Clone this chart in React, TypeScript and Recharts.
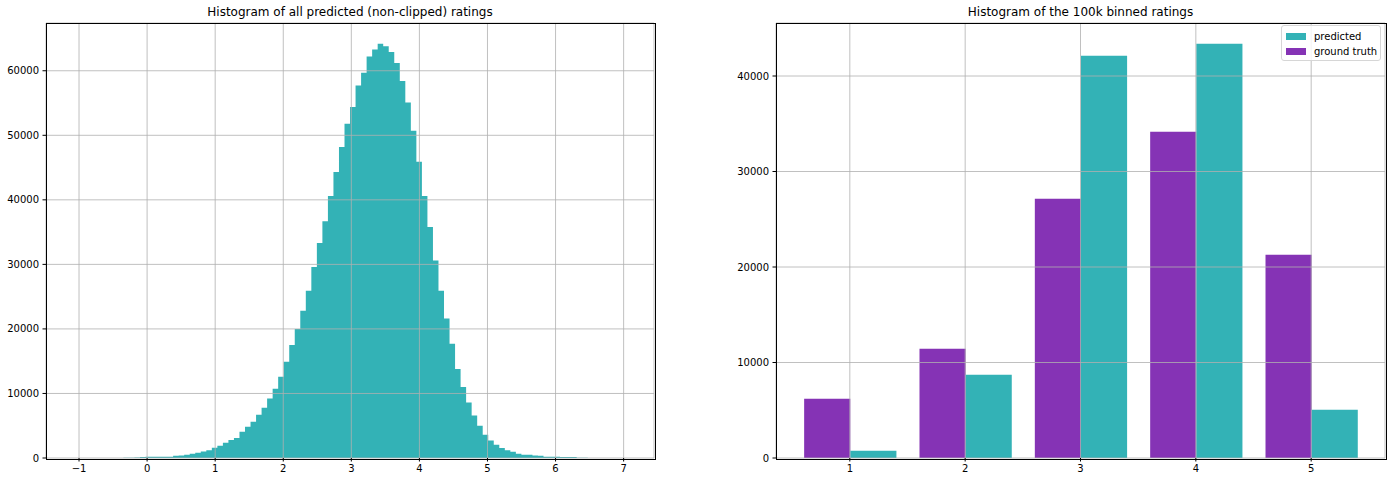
import React from "react";
import { AreaChart, Area, BarChart, Bar, XAxis, YAxis, CartesianGrid } from "recharts";

// left panel: 100-bin histogram of all predicted ratings
const HIST_START = -1.079;
const HIST_BIN_WIDTH = 0.0812;
const histCounts = [
  0, 0, 1, 0, 2, 3, 5, 8, 12, 20, 35, 60,
  170, 180, 180, 190, 190, 200,
  350, 370,
  500, 670, 830, 1000, 1200, 1600, 1900, 2380, 2790, 3100, 4080, 4860, 5630, 6720, 7800, 9200,
  10740, 12600, 14900, 17500, 20000, 22800, 25900, 29600, 33300, 36700, 40600, 44300, 48200,
  51800, 54400, 57700, 59700, 62200, 63300, 64200, 63800, 62900, 61200, 58400, 55100, 50700,
  45900, 40600, 35800, 30600, 25900, 21600, 17700, 13800, 11000, 8600, 6600, 5000, 3600,
  2700, 2070, 1550, 1190, 980, 670, 520, 500, 370, 350, 190, 180, 180, 170, 170, 160,
  40, 20, 10, 5, 3, 2, 1, 0, 1,
];
const histTicksX = [-1, 0, 1, 2, 3, 4, 5, 6, 7];
const histTicksY = [0, 10000, 20000, 30000, 40000, 50000, 60000];
const HIST_DOMAIN_X: [number, number] = [-1.485, 7.446];
const HIST_DOMAIN_Y: [number, number] = [0, 67400];

// right panel: binned ratings, 1..5
const ratingBins = [1, 2, 3, 4, 5];
const groundTruthCounts = [6200, 11450, 27150, 34170, 21290];
const predictedCounts = [770, 8730, 42130, 43390, 5060];
const binnedTicksY = [0, 10000, 20000, 30000, 40000];
const BINNED_DOMAIN_X: [number, number] = [0.36, 5.64];
const BINNED_DOMAIN_Y: [number, number] = [0, 45550];
const BAR_WIDTH_UNITS = 0.4;

const TEAL = "#33b2b6";
const PURPLE = "#8533b5";
const GRID = "#b0b0b0";
const FONT = "'DejaVu Sans', sans-serif";

const legendItems = [
  { name: "predicted", color: TEAL },
  { name: "ground truth", color: PURPLE },
];

// histogram drawn as a step area over the bin edges (no seams between bins);
// the closing edge keeps the last bin's height
const histData = [
  ...histCounts.map((count, i) => ({ x: HIST_START + i * HIST_BIN_WIDTH, count })),
  { x: HIST_START + histCounts.length * HIST_BIN_WIDTH, count: histCounts[histCounts.length - 1] },
];

const binnedData = ratingBins.map((rating, i) => ({
  rating,
  groundTruth: groundTruthCounts[i],
  predicted: predictedCounts[i],
}));

const tickStyle = { fill: "#000", fontSize: 10, fontFamily: FONT };
const fmtTick = (v: number) => (v < 0 ? `\u2212${Math.abs(v)}` : `${v}`);

// plot areas (page px), used for the frame and to turn data widths into bar pixels
const LEFT_W = 700;
const LEFT_PLOT = { x: 46, y: 23, w: 608, h: 435 };
const RIGHT_W = 691;
const RIGHT_PLOT = { x: 776, y: 23, w: 609, h: 435 };

function Title({ text, left, width }: { text: string; left: number; width: number }) {
  return (
    <div
      style={{
        position: "absolute",
        top: 5,
        left,
        width,
        textAlign: "center",
        fontFamily: FONT,
        fontSize: 12,
        lineHeight: "14px",
        color: "#000",
      }}
    >
      {text}
    </div>
  );
}

function Frame({ x, y, w, h }: { x: number; y: number; w: number; h: number }) {
  return (
    <div
      style={{
        position: "absolute",
        left: x - 0.5,
        top: y - 0.5,
        width: w,
        height: h,
        border: "1px solid #000",
        pointerEvents: "none",
      }}
    />
  );
}

export default function App() {
  const binnedBarPx =
    (RIGHT_PLOT.w / (BINNED_DOMAIN_X[1] - BINNED_DOMAIN_X[0])) * BAR_WIDTH_UNITS;

  return (
    <div
      style={{
        position: "absolute",
        left: 0,
        top: 0,
        width: 1391,
        height: 482,
        background: "#fff",
        overflow: "hidden",
      }}
    >
      <Title text="Histogram of all predicted (non-clipped) ratings" left={46} width={608} />
      <Title text="Histogram of the 100k binned ratings" left={776} width={609} />

      <div style={{ position: "absolute", left: 0, top: 0 }}>
        <AreaChart
          width={LEFT_W}
          height={482}
          data={histData}
          margin={{ top: 23, right: 46, bottom: 0, left: 0 }}
        >
          <XAxis
            dataKey="x"
            type="number"
            domain={HIST_DOMAIN_X}
            ticks={histTicksX}
            allowDataOverflow
            tickFormatter={fmtTick}
            tick={tickStyle}
            tickSize={3.5}
            tickMargin={3.5}
            height={24}
            axisLine={false}
            tickLine={{ stroke: "#000" }}
          />
          <YAxis
            type="number"
            domain={HIST_DOMAIN_Y}
            ticks={histTicksY}
            allowDataOverflow
            tick={tickStyle}
            tickSize={3.5}
            tickMargin={3.5}
            width={46}
            axisLine={false}
            tickLine={{ stroke: "#000" }}
          />
          <Area
            type="stepAfter"
            dataKey="count"
            fill={TEAL}
            fillOpacity={1}
            stroke="none"
            dot={false}
            activeDot={false}
            isAnimationActive={false}
          />
          <CartesianGrid stroke={GRID} strokeWidth={0.8} zIndex={350} />
        </AreaChart>
      </div>

      <div style={{ position: "absolute", left: 700, top: 0 }}>
        <BarChart
          width={RIGHT_W}
          height={482}
          data={binnedData}
          margin={{ top: 23, right: 6, bottom: 0, left: 0 }}
          barCategoryGap={0}
          barGap={0}
        >
          <XAxis
            dataKey="rating"
            type="number"
            domain={BINNED_DOMAIN_X}
            ticks={ratingBins}
            allowDataOverflow
            tick={tickStyle}
            tickSize={3.5}
            tickMargin={3.5}
            height={24}
            axisLine={false}
            tickLine={{ stroke: "#000" }}
          />
          <YAxis
            type="number"
            domain={BINNED_DOMAIN_Y}
            ticks={binnedTicksY}
            allowDataOverflow
            tick={tickStyle}
            tickSize={3.5}
            tickMargin={3.5}
            width={76}
            axisLine={false}
            tickLine={{ stroke: "#000" }}
          />
          <Bar dataKey="groundTruth" name="ground truth" fill={PURPLE} barSize={binnedBarPx} isAnimationActive={false} />
          <Bar dataKey="predicted" name="predicted" fill={TEAL} barSize={binnedBarPx} isAnimationActive={false} />
          <CartesianGrid stroke={GRID} strokeWidth={0.8} zIndex={350} />
        </BarChart>
      </div>

      <Frame {...LEFT_PLOT} />
      <Frame {...RIGHT_PLOT} />

      {/* legend box, upper right of the second panel */}
      <div
        style={{
          position: "absolute",
          left: 1281,
          top: 25,
          width: 100,
          height: 36,
          boxSizing: "border-box",
          border: "1px solid #d6d6d6",
          borderRadius: 3,
          background: "rgba(255,255,255,0.8)",
          paddingTop: 3,
          fontFamily: FONT,
          fontSize: 10,
          color: "#000",
        }}
      >
        {legendItems.map((item) => (
          <div key={item.name} style={{ display: "flex", alignItems: "center", height: 15 }}>
            <div style={{ width: 20, height: 7, marginLeft: 4, marginRight: 8, background: item.color }} />
            <span>{item.name}</span>
          </div>
        ))}
      </div>
    </div>
  );
}
